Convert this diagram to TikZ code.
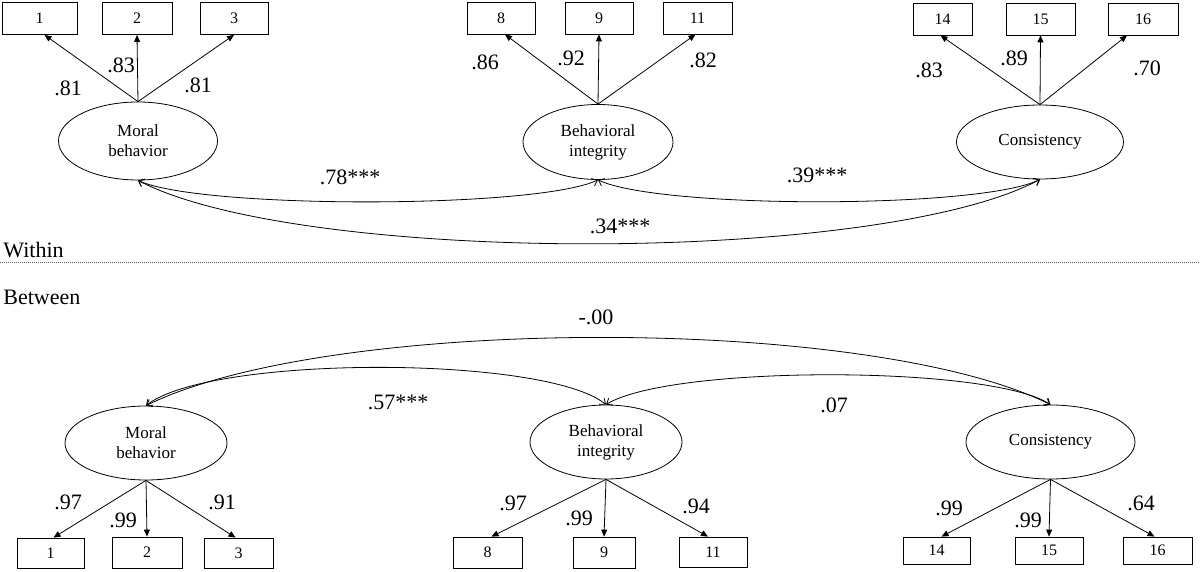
\documentclass[tikz,border=0pt]{standalone}
\usepackage{fontspec}
\setmainfont{Liberation Serif}
\usetikzlibrary{shapes.geometric,arrows.meta,calc}
\begin{document}
\begin{tikzpicture}[x=1pt,y=-1pt,
  line width=0.8pt,
  latent/.style={draw,ellipse,inner sep=0pt,align=center,font=\fontsize{17}{20}\selectfont},
  obs/.style={draw,rectangle,inner sep=0pt,minimum height=32pt,font=\fontsize{16}{18}\selectfont},
  lab/.style={font=\fontsize{22}{24}\selectfont,inner sep=0pt},
  load/.style={-{Triangle[length=7pt,width=6pt]}},
  cov/.style={{Straight Barb[length=5pt,width=8pt]}-{Straight Barb[length=5pt,width=8pt]}},
]
\useasboundingbox (0,0) rectangle (1200,572);

% ---------- WITHIN ----------
\node[latent,minimum width=159pt,minimum height=78pt] (wm) at (138,141) {Moral\\behavior};
\node[latent,minimum width=150pt,minimum height=75pt] (wb) at (598,142) {Behavioral\\integrity};
\node[latent,minimum width=167pt,minimum height=74pt] (wc) at (1040,142) {Consistency};

\node[obs,minimum width=75pt] (w1) at (39.5,18.5) {1};
\node[obs,minimum width=70pt] (w2) at (137,18.5) {2};
\node[obs,minimum width=68pt] (w3) at (234,18.5) {3};
\node[obs,minimum width=68pt] (w8) at (501,18) {8};
\node[obs,minimum width=68pt] (w9) at (599,18) {9};
\node[obs,minimum width=69pt] (w11) at (697.5,18) {11};
\node[obs,minimum width=59pt] (w14) at (942.5,19) {14};
\node[obs,minimum width=69pt] (w15) at (1040.5,19) {15};
\node[obs,minimum width=70pt] (w16) at (1143,19) {16};

\draw[load] (wm.north) -- ($(w1.south)+(5,0)$);
\draw[load] (wm.north) -- (w2.south);
\draw[load] (wm.north) -- (w3.south);
\draw[load] (wb.north) -- ($(w8.south)+(4,0)$);
\draw[load] (wb.north) -- (w9.south);
\draw[load] (wb.north) -- ($(w11.south)+(-2,0)$);
\draw[load] (wc.north) -- ($(w14.south)+(-2,0)$);
\draw[load] (wc.north) -- (w15.south);
\draw[load] (wc.north) -- ($(w16.south)+(-16,0)$);

\node[lab] (l1) at (68,88) {.81};
\node[lab] (l2) at (121,65) {.83};
\node[lab] (l3) at (198,85) {.81};
\node[lab] (l8) at (485,62) {.86};
\node[lab] (l9) at (571,58) {.92};
\node[lab] (l11) at (703,60) {.82};
\node[lab] (l14) at (929,70) {.83};
\node[lab] (l15) at (1014,58) {.89};
\node[lab] (l16) at (1147,68) {.70};

\draw[cov] (wm.south) .. controls (200,209) and (536,209) .. (wb.south);
\draw[cov] (wb.south) .. controls (660,209) and (980,209) .. (wc.south);
\draw[cov] (wm.south) .. controls (300,265) and (880,265) .. (wc.south);

\node[lab] (c1) at (350,177) {.78***};
\node[lab] (c2) at (817,175) {.39***};
\node[lab] (c3) at (620,226) {.34***};

% ---------- divider ----------
\coordinate (dl) at (0,262);
\coordinate (dr) at (1200,262);
\draw[line width=0.6pt,gray!70!black,dash pattern=on 1.2pt off 0.8pt] (dl) -- (dr);
\node[lab,anchor=west] (within) at (3,250) {Within};
\node[lab,anchor=west] (between) at (3,297) {Between};

% ---------- BETWEEN ----------
\node[latent,minimum width=162pt,minimum height=74pt] (bm) at (146,443) {Moral\\behavior};
\node[latent,minimum width=152pt,minimum height=74pt] (bb) at (606,442) {Behavioral\\integrity};
\node[latent,minimum width=169pt,minimum height=74pt] (bc) at (1050.5,442) {Consistency};

\node[obs,minimum width=67pt,minimum height=30pt] (b1) at (50.5,553) {1};
\node[obs,minimum width=70pt,minimum height=31pt] (b2) at (147,552.5) {2};
\node[obs,minimum width=69pt,minimum height=30pt] (b3) at (238.5,553) {3};
\node[obs,minimum width=69pt,minimum height=31pt] (b8) at (487.5,552.5) {8};
\node[obs,minimum width=62pt,minimum height=31pt] (b9) at (604,552.5) {9};
\node[obs,minimum width=68pt,minimum height=30pt] (b11) at (713,552) {11};
\node[obs,minimum width=67pt,minimum height=27pt] (b14) at (936.5,550.5) {14};
\node[obs,minimum width=68pt,minimum height=27pt] (b15) at (1049,550.5) {15};
\node[obs,minimum width=69pt,minimum height=27pt] (b16) at (1157.5,550.5) {16};

\draw[load] (bm.south) -- ($(b1.north)+(3,0)$);
\draw[load] (bm.south) -- (b2.north);
\draw[load] (bm.south) -- ($(b3.north)+(-3,0)$);
\draw[load] (bb.south) -- ($(b8.north)+(4,0)$);
\draw[load] (bb.south) -- (b9.north);
\draw[load] (bb.south) -- ($(b11.north)+(-5,0)$);
\draw[load] (bc.south) -- ($(b14.north)+(5,0)$);
\draw[load] (bc.south) -- (b15.north);
\draw[load] (bc.south) -- ($(b16.north)+(-3,0)$);

\node[lab] (m1) at (68,502) {.97};
\node[lab] (m2) at (123,520) {.99};
\node[lab] (m3) at (222,502) {.91};
\node[lab] (m8) at (513,503) {.97};
\node[lab] (m9) at (579,518) {.99};
\node[lab] (m11) at (696,506) {.94};
\node[lab] (m14) at (949,508) {.99};
\node[lab] (m15) at (1028,520) {.99};
\node[lab] (m16) at (1141,503) {.64};

\draw[cov] (bm.north) .. controls (210,355) and (545,355) .. (bb.north);
\draw[cov] (bb.north) .. controls (670,365) and (990,365) .. (bc.north);
\draw[cov] (bm.north) .. controls (330,315) and (870,315) .. (bc.north);

\node[lab] (d1) at (398,402) {.57***};
\node[lab] (d2) at (834,405) {.07};
\node[lab] (d3) at (596,317) {-.00};
\end{tikzpicture}
\end{document}
